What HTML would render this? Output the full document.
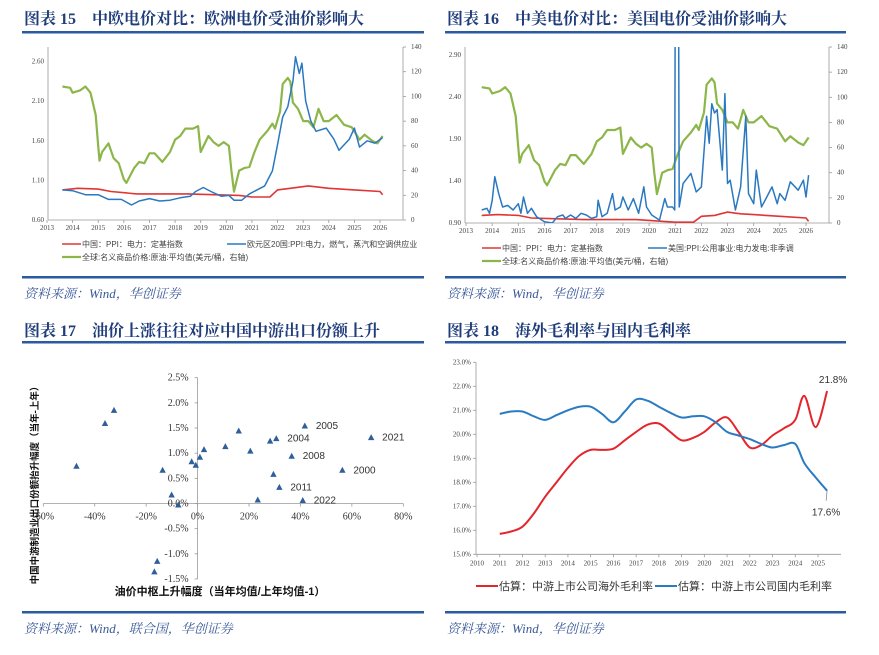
<!DOCTYPE html>
<html><head><meta charset="utf-8"><style>
html,body{margin:0;padding:0;background:#fff;}
svg{display:block;}
.tt{font-family:"Liberation Serif","Noto Serif CJK SC",serif;font-weight:bold;font-size:16px;fill:#1f3d7a;}
.src{font-family:"Liberation Serif","Noto Serif CJK SC",serif;font-style:italic;font-size:13px;fill:#3a5a9a;}
.ax{font-family:"Liberation Serif",serif;font-size:7px;fill:#444;}
.lg{font-family:"Liberation Sans","Noto Sans CJK SC",sans-serif;font-size:8px;fill:#444;}
.sc{font-family:"Liberation Serif",serif;font-size:10px;fill:#333;}
.lb{font-family:"Liberation Sans",sans-serif;font-size:10px;fill:#333;}
</style></head><body>
<svg id="s" width="879" height="655" viewBox="0 0 879 655" xmlns="http://www.w3.org/2000/svg">
<defs>
<clipPath id="c16"><rect x="465" y="47" width="364" height="176"/></clipPath>
<clipPath id="c15"><rect x="48" y="47" width="355" height="173"/></clipPath>
</defs>
<g>
<text class="tt" x="24" y="24">图表 15　中欧电价对比：欧洲电价受油价影响大</text>
<rect x="22" y="31" width="402" height="2.5" fill="#2a5aa0"/>
<rect x="22" y="276" width="402" height="2.5" fill="#2a5aa0"/>
<text class="src" x="24" y="298">资料来源：Wind，华创证券</text>
</g>
<g>
<text class="tt" x="447" y="24">图表 16　中美电价对比：美国电价受油价影响大</text>
<rect x="445" y="31" width="401" height="2.5" fill="#2a5aa0"/>
<rect x="445" y="276" width="401" height="2.5" fill="#2a5aa0"/>
<text class="src" x="447" y="298">资料来源：Wind，华创证券</text>
</g>
<g>
<text class="tt" x="24" y="336">图表 17　油价上涨往往对应中国中游出口份额上升</text>
<rect x="22" y="341" width="402" height="2.5" fill="#2a5aa0"/>
<rect x="22" y="611" width="402" height="2.5" fill="#2a5aa0"/>
<text class="src" x="24" y="633">资料来源：Wind，联合国，华创证券</text>
</g>
<g>
<text class="tt" x="447" y="336">图表 18　海外毛利率与国内毛利率</text>
<rect x="445" y="341" width="401" height="2.5" fill="#2a5aa0"/>
<rect x="445" y="611" width="401" height="2.5" fill="#2a5aa0"/>
<text class="src" x="447" y="633">资料来源：Wind，华创证券</text>
</g>
</svg>
<script>
// ---------- data ----------
const years = [2013,2014,2015,2016,2017,2018,2019,2020,2021,2022,2023,2024,2025,2026];
const oilT = [2013.6,2013.9,2014.0,2014.3,2014.5,2014.7,2014.9,2015.0,2015.05,2015.15,2015.4,2015.6,2015.8,2016.0,2016.1,2016.4,2016.6,2016.8,2017.0,2017.2,2017.5,2017.8,2018.0,2018.2,2018.4,2018.7,2018.9,2019.0,2019.3,2019.5,2019.7,2019.9,2020.1,2020.2,2020.3,2020.5,2020.7,2020.9,2021.1,2021.3,2021.6,2021.8,2021.9,2022.1,2022.2,2022.4,2022.5,2022.6,2022.8,2023.0,2023.2,2023.4,2023.6,2023.8,2024.0,2024.3,2024.6,2024.9,2025.2,2025.4,2025.7,2025.9,2026.1];
const oilV = [108,107,103,105,108,103,85,60,48,55,62,50,46,33,30,42,47,46,54,54,47,55,65,68,74,74,76,55,68,63,60,63,60,40,23,40,42,43,55,65,72,78,74,88,110,115,112,95,90,80,80,75,90,80,80,85,77,75,65,69,64,62,68];
const euT = [2013.6,2014.0,2014.5,2015.0,2015.4,2015.9,2016.3,2016.6,2017.0,2017.4,2017.8,2018.2,2018.6,2018.8,2019.1,2019.4,2019.8,2020.1,2020.3,2020.6,2020.9,2021.2,2021.5,2021.8,2022.0,2022.2,2022.4,2022.6,2022.7,2022.85,2022.95,2023.1,2023.3,2023.5,2023.9,2024.2,2024.4,2024.8,2025.0,2025.2,2025.5,2025.8,2026.1];
const euV = [0.98,0.97,0.92,0.92,0.86,0.86,0.79,0.84,0.87,0.84,0.85,0.88,0.90,0.96,1.01,0.96,0.90,0.91,0.85,0.85,0.93,0.98,1.03,1.22,1.55,1.90,2.03,2.35,2.66,2.45,2.58,2.10,1.85,1.72,1.76,1.62,1.48,1.62,1.76,1.52,1.60,1.57,1.64];
const cn15T = [2013.6,2014.2,2015.0,2015.5,2016.5,2017.5,2018.5,2019.5,2020.5,2021.0,2021.7,2022.0,2022.5,2023.2,2024.0,2025.0,2026.0,2026.1];
const cn15V = [0.98,1.00,0.99,0.96,0.93,0.93,0.93,0.92,0.91,0.89,0.89,0.98,1.00,1.03,1.00,0.98,0.96,0.92];
const usT = [2013.6,2013.8,2013.9,2014.0,2014.1,2014.25,2014.4,2014.6,2014.8,2015.0,2015.1,2015.2,2015.35,2015.5,2015.7,2016.0,2016.3,2016.5,2016.7,2016.8,2017.0,2017.2,2017.4,2017.6,2017.8,2018.0,2018.05,2018.2,2018.4,2018.6,2018.7,2018.9,2019.0,2019.2,2019.4,2019.6,2019.8,2019.9,2020.1,2020.4,2020.6,2020.7,2020.9,2020.98,2021.0,2021.13,2021.15,2021.3,2021.6,2021.8,2022.0,2022.2,2022.3,2022.4,2022.5,2022.6,2022.8,2022.9,2023.0,2023.1,2023.3,2023.5,2023.7,2023.8,2024.0,2024.1,2024.3,2024.5,2024.7,2024.9,2025.0,2025.2,2025.4,2025.7,2025.9,2026.0,2026.1];
const usV = [1.055,1.075,1.015,1.17,1.45,1.25,1.09,1.11,1.055,1.13,1.015,1.21,1.015,1.075,0.975,0.915,0.90,0.975,0.995,0.955,0.995,0.955,1.015,0.995,0.955,0.975,1.17,0.975,1.015,1.25,1.055,1.09,1.21,1.055,1.19,1.015,1.33,1.09,0.995,0.935,1.19,1.09,1.09,1.055,3.5,3.5,1.09,1.37,1.49,1.27,1.33,2.17,1.85,2.32,2.21,2.25,1.53,2.44,1.37,1.41,1.055,1.33,2.17,1.25,1.13,1.53,1.09,1.21,1.33,1.13,1.25,1.17,1.39,1.29,1.41,1.21,1.47];
const cn16T = [2013.6,2014.2,2015.0,2015.5,2016.5,2017.5,2018.5,2019.5,2020.5,2021.0,2021.7,2022.0,2022.5,2023.0,2023.5,2024.0,2025.0,2026.0,2026.1];
const cn16V = [0.99,1.0,0.99,0.96,0.95,0.94,0.94,0.94,0.92,0.91,0.91,0.98,0.99,1.03,1.01,1.0,0.98,0.96,0.92];
const scX = [-47.1,-36.0,-32.5,-13.6,-10.1,-7.5,-15.7,-16.8,-2.3,-0.7,0.9,2.5,10.8,16.0,20.5,23.4,28.2,30.6,29.5,31.8,36.6,41.7,40.9,56.3,67.5];
const scY = [0.74,1.59,1.85,0.66,0.17,-0.03,-1.15,-1.36,0.83,0.76,0.92,1.07,1.13,1.44,1.04,0.07,1.24,1.29,0.58,0.32,0.94,1.54,0.06,0.66,1.31];
const scLab = ["","","","","","","","","","","","","","","","","","2004","","2011","2008","2005","2022","2000","2021"];
const scXTicks = [-60,-40,-20,0,20,40,60,80];
const scYTicks = [-1.5,-1.0,-0.5,0.0,0.5,1.0,1.5,2.0,2.5];
const gmT = [2011,2011.5,2012,2012.5,2013,2013.5,2014,2014.5,2015,2015.5,2016,2016.5,2017,2017.5,2018,2018.5,2019,2019.5,2020,2020.5,2021,2021.5,2022,2022.5,2023,2023.5,2024,2024.4,2024.9,2025.4];
const gmOver = [15.85,15.95,16.15,16.7,17.4,18.0,18.6,19.1,19.35,19.35,19.4,19.75,20.1,20.4,20.45,20.1,19.75,19.85,20.1,20.5,20.7,20.1,19.45,19.55,19.95,20.25,20.6,21.6,20.3,21.8];
const gmDom = [20.85,20.95,20.95,20.75,20.6,20.8,21.0,21.15,21.15,20.85,20.5,20.95,21.45,21.4,21.15,20.9,20.7,20.75,20.75,20.5,20.1,19.95,19.8,19.6,19.45,19.55,19.6,18.8,18.2,17.65];
const gmYears = [2010,2011,2012,2013,2014,2015,2016,2017,2018,2019,2020,2021,2022,2023,2024,2025];
const gmYTicks = [15,16,17,18,19,20,21,22,23];

// ---------- helpers ----------
const S = document.getElementById('s');
const NS = 'http://www.w3.org/2000/svg';
function mk(tag, attrs, parent){ const e=document.createElementNS(NS,tag); for(const k in attrs) e.setAttribute(k,attrs[k]); (parent||S).appendChild(e); return e; }
function lin(d0,d1,r0,r1){ return v=>r0+(v-d0)/(d1-d0)*(r1-r0); }
function path(xs,ys,sx,sy){ return xs.map((x,i)=>(i?'L':'M')+sx(x).toFixed(1)+' '+sy(ys[i]).toFixed(1)).join(''); }
function smooth(xs,ys,sx,sy){ const p=xs.map((x,i)=>[sx(x),sy(ys[i])]); let d='M'+p[0][0]+' '+p[0][1];
  for(let i=0;i<p.length-1;i++){ const p0=p[i-1]||p[i],p1=p[i],p2=p[i+1],p3=p[i+2]||p2;
    const c1=[p1[0]+(p2[0]-p0[0])/6,p1[1]+(p2[1]-p0[1])/6],c2=[p2[0]-(p3[0]-p1[0])/6,p2[1]-(p3[1]-p1[1])/6];
    d+='C'+c1.join(' ')+' '+c2.join(' ')+' '+p2.join(' ');} return d; }
function txt(x,y,s,cls,anchor,parent){ const t=mk('text',{x:x,y:y,class:cls,'text-anchor':anchor||'start'},parent); t.textContent=s; return t; }

// ---------- dual-axis chart (15 & 16) ----------
function dual(cfg){
  const g=mk('g',{});
  
  
  const sx=lin(2013,2026,cfg.x0,cfg.x26), sy=lin(cfg.lmin,cfg.lmax,cfg.bot,cfg.top), sr=lin(0,140,cfg.bot,cfg.top);
  mk('line',{x1:cfg.xl,y1:cfg.top,x2:cfg.xl,y2:cfg.bot,stroke:'#999','stroke-width':0.8},g);
  mk('line',{x1:cfg.xr,y1:cfg.top,x2:cfg.xr,y2:cfg.bot,stroke:'#999','stroke-width':0.8},g);
  mk('line',{x1:cfg.xl,y1:cfg.bot,x2:cfg.xr,y2:cfg.bot,stroke:'#999','stroke-width':0.8},g);
  cfg.lt.forEach(v=>{ const t=txt(cfg.xl-4,sy(v)+2,v.toFixed(2),'ax','end',g);
      });
  [0,20,40,60,80,100,120,140].forEach(v=>{ mk('line',{x1:cfg.xr,y1:sr(v),x2:cfg.xr+3,y2:sr(v),stroke:'#999','stroke-width':0.8},g);
    const t=txt(cfg.xr+8,sr(v)+2,String(v),'ax','start',g);
      });
  years.forEach(y=>{ mk('line',{x1:sx(y),y1:cfg.bot,x2:sx(y),y2:cfg.bot+3,stroke:'#999','stroke-width':0.8},g);
    const t=txt(sx(y),cfg.bot+10,String(y),'ax','middle',g);
      });
  const cg=mk('g',{'clip-path':'url(#'+cfg.clip+')'},g);
  const pg=mk('path',{d:path(oilT,oilV,sx,sr),fill:'none',stroke:'#8db64a','stroke-width':2.2,'stroke-linejoin':'round'},cg);
   
  const pr=mk('path',{d:path(cfg.cnT,cfg.cnV,sx,sy),fill:'none',stroke:'#e03535','stroke-width':1.6},cg);
   
  const pb=mk('path',{d:path(cfg.bT,cfg.bV,sx,sy),fill:'none',stroke:'#2a78c0','stroke-width':1.5,'stroke-linejoin':'round'},cg);
   
  const L=cfg.leg;
  [[L.r[0],L.r[1],'#e03535','中国：PPI：电力：定基指数'],[L.b[0],L.b[1],'#2a78c0',cfg.bLabel],[L.g[0],L.g[1],'#8db64a','全球:名义商品价格:原油:平均值(美元/桶，右轴)']].forEach((e,i)=>{
    const lg=mk('g',{},g);
     
    mk('line',{x1:e[0],y1:e[1],x2:e[0]+19,y2:e[1],stroke:e[2],'stroke-width':i==2?2.2:1.6},lg);
    txt(e[0]+20,e[1]+3,e[3],'lg','start',lg);
  });
}
dual({id:'chart15',x0:47,x26:380,xl:48,xr:403,top:47,bot:220,lmin:0.6,lmax:0.6+173/79.2,lt:[0.6,1.1,1.6,2.1,2.6],clip:'c15',
  cnT:cn15T,cnV:cn15V,bT:euT,bV:euV,bName:'eurozone-ppi-line',bLabel:'欧元区20国:PPI:电力，燃气，蒸汽和空调供应业',
  leg:{r:[62,244],b:[227,244],g:[62,257]}});
dual({id:'chart16',x0:466,x26:806,xl:465,xr:829,top:47,bot:223,lmin:0.9,lmax:0.9+176/84,lt:[0.9,1.4,1.9,2.4,2.9],clip:'c16',
  cnT:cn16T,cnV:cn16V,bT:usT,bV:usV,bName:'us-ppi-power-line',bLabel:'美国:PPI:公用事业:电力发电:非季调',
  leg:{r:[482,248],b:[648,248],g:[482,261]}});

// ---------- scatter (17) ----------
(function(){
  const g=mk('g',{});
   
  const sx=lin(-60,80,43.3,403.3), sy=lin(0,2.5,503.5,377.7);
  mk('line',{x1:sx(-60),y1:sy(0),x2:sx(80),y2:sy(0),stroke:'#999','stroke-width':0.8},g);
  mk('line',{x1:sx(0),y1:sy(2.5),x2:sx(0),y2:sy(-1.5),stroke:'#999','stroke-width':0.8},g);
  scXTicks.forEach(v=>{ mk('line',{x1:sx(v),y1:sy(0),x2:sx(v),y2:sy(0)+3,stroke:'#999','stroke-width':0.8},g);
    const t=txt(sx(v),sy(0)+16,v+'%','sc','middle',g);
      });
  scYTicks.forEach(v=>{ mk('line',{x1:sx(0)-3,y1:sy(v),x2:sx(0),y2:sy(v),stroke:'#999','stroke-width':0.8},g);
    const t=txt(sx(0)-9,sy(v)+3,v.toFixed(1)+'%','sc','end',g);
      });
  scX.forEach((x,i)=>{ const px=sx(x),py=sy(scY[i]);
    const m=mk('path',{d:`M${px} ${py-3.5}L${px+3.2} ${py+2.5}L${px-3.2} ${py+2.5}Z`,fill:'#2f5f9a'},g);
     
    if(scLab[i]){ const t=txt(px+11,py+3,scLab[i],'lb','start',g);
        } });
  const xt=txt(220,595,'油价中枢上升幅度（当年均值/上年均值-1）','lg','middle',g);
  xt.setAttribute('style','font-size:11px;font-weight:bold;fill:#111');
   
  const yt=txt(0,0,'中国中游制造业出口份额抬升幅度（当年-上年）','lg','middle',g);
  yt.setAttribute('style','font-size:9.5px;font-weight:bold;fill:#111');
  yt.setAttribute('transform','translate(38,483) rotate(-90)');
   
})();

// ---------- margin lines (18) ----------
(function(){
  const g=mk('g',{});
   
  const sx=lin(2010,2025,477,818), sy=lin(15,23,554.3,362.3);
  mk('line',{x1:476,y1:sy(23),x2:476,y2:sy(15),stroke:'#999','stroke-width':0.8},g);
  mk('line',{x1:476,y1:sy(15),x2:841,y2:sy(15),stroke:'#999','stroke-width':0.8},g);
  gmYTicks.forEach(v=>{ mk('line',{x1:473,y1:sy(v),x2:476,y2:sy(v),stroke:'#999','stroke-width':0.8},g);
    const t=txt(471,sy(v)+2,v.toFixed(1)+'%','ax','end',g);
      });
  gmYears.forEach(y=>{ mk('line',{x1:sx(y),y1:sy(15),x2:sx(y),y2:sy(15)+3,stroke:'#999','stroke-width':0.8},g);
    const t=txt(sx(y),sy(15)+11,String(y),'ax','middle',g);
      });
  const pr=mk('path',{d:smooth(gmT,gmOver,sx,sy),fill:'none',stroke:'#e2262c','stroke-width':2},g);
   
  const pb=mk('path',{d:smooth(gmT,gmDom,sx,sy),fill:'none',stroke:'#2b7bc2','stroke-width':2},g);
   
  const n=gmT.length-1;
  const a=txt(sx(gmT[n])+6,sy(gmOver[n])-8,gmOver[n].toFixed(1)+'%','lb','middle',g);
   
  mk('line',{x1:sx(gmT[n]),y1:sy(gmDom[n]),x2:sx(gmT[n])-1,y2:sy(gmDom[n])+10,stroke:'#666','stroke-width':0.6},g);
  const b=txt(sx(gmT[n])-1,sy(gmDom[n])+25,gmDom[n].toFixed(1)+'%','lb','middle',g);
   
  [[476,'#e2262c','估算：中游上市公司海外毛利率'],[655,'#2b7bc2','估算：中游上市公司国内毛利率']].forEach(e=>{
    const lg=mk('g',{},g);
     
    mk('line',{x1:e[0],y1:586,x2:e[0]+22,y2:586,stroke:e[1],'stroke-width':2},lg);
    const t=txt(e[0]+23,590,e[2],'lg','start',lg); t.setAttribute('style','font-size:11px;fill:#333');
  });
})();
</script>
</body></html>
